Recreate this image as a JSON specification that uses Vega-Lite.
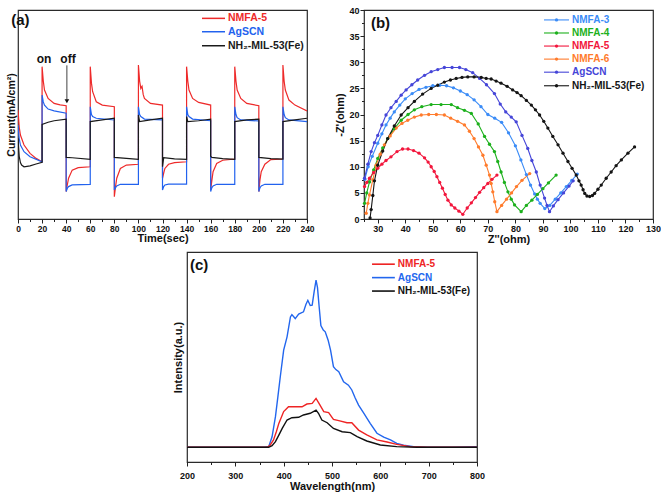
{
"$schema": "https://vega.github.io/schema/vega-lite/v6.json",
"background": "white",
"padding": {"left": 5, "top": 5, "right": 0, "bottom": 5},
"config": {
  "view": {"stroke": "#2a2a2a", "strokeWidth": 1.2},
  "axis": {"grid": false, "domain": false, "labelOverlap": false, "labelFlush": false, "labelFont": "Liberation Sans", "labelFontWeight": "bold", "labelFontSize": 9, "labelColor": "#111", "titleFont": "Liberation Sans", "titleFontWeight": "bold", "titleFontSize": 11, "titleColor": "#111", "tickColor": "#222", "labelPadding": 1, "titlePadding": 0},
  "text": {"font": "Liberation Sans", "fontWeight": "bold"}
},
"datasets": {
"a": [
{"s":"NMFA-5","t":0,"v":52.2},{"s":"NMFA-5","t":1,"v":44},{"s":"NMFA-5","t":2,"v":40.2},{"s":"NMFA-5","t":5,"v":35.4},{"s":"NMFA-5","t":10,"v":31.4},{"s":"NMFA-5","t":15,"v":29},{"s":"NMFA-5","t":20,"v":27.4},
{"s":"NMFA-5","t":20,"v":72.9},{"s":"NMFA-5","t":21,"v":66},{"s":"NMFA-5","t":22,"v":61.7},{"s":"NMFA-5","t":25,"v":57.7},{"s":"NMFA-5","t":30,"v":55.3},{"s":"NMFA-5","t":35,"v":54.6},{"s":"NMFA-5","t":40,"v":54.2},
{"s":"NMFA-5","t":40,"v":13.1},{"s":"NMFA-5","t":41,"v":16.5},{"s":"NMFA-5","t":42,"v":19.5},{"s":"NMFA-5","t":45,"v":23.4},{"s":"NMFA-5","t":50,"v":24.6},{"s":"NMFA-5","t":60,"v":25.0},
{"s":"NMFA-5","t":60,"v":72.9},{"s":"NMFA-5","t":61,"v":65},{"s":"NMFA-5","t":62,"v":60.9},{"s":"NMFA-5","t":65,"v":56.1},{"s":"NMFA-5","t":70,"v":54.5},{"s":"NMFA-5","t":80,"v":53.7},
{"s":"NMFA-5","t":80,"v":10.7},{"s":"NMFA-5","t":81,"v":15.5},{"s":"NMFA-5","t":82,"v":19.5},{"s":"NMFA-5","t":85,"v":24.2},{"s":"NMFA-5","t":90,"v":25.8},{"s":"NMFA-5","t":100,"v":26.2},
{"s":"NMFA-5","t":100,"v":73.7},{"s":"NMFA-5","t":101,"v":66},{"s":"NMFA-5","t":102,"v":62.5},{"s":"NMFA-5","t":103,"v":63.5},{"s":"NMFA-5","t":104,"v":59.5},{"s":"NMFA-5","t":105,"v":57.7},{"s":"NMFA-5","t":110,"v":55.3},{"s":"NMFA-5","t":120,"v":54.5},
{"s":"NMFA-5","t":120,"v":19.5},{"s":"NMFA-5","t":121,"v":22},{"s":"NMFA-5","t":122,"v":24.2},{"s":"NMFA-5","t":125,"v":26.2},{"s":"NMFA-5","t":130,"v":27.0},{"s":"NMFA-5","t":140,"v":27.4},
{"s":"NMFA-5","t":140,"v":72.9},{"s":"NMFA-5","t":141,"v":66},{"s":"NMFA-5","t":142,"v":61.7},{"s":"NMFA-5","t":145,"v":57.7},{"s":"NMFA-5","t":150,"v":55.8},{"s":"NMFA-5","t":160,"v":54.5},
{"s":"NMFA-5","t":160,"v":13.9},{"s":"NMFA-5","t":161,"v":18.5},{"s":"NMFA-5","t":162,"v":22.6},{"s":"NMFA-5","t":165,"v":26.6},{"s":"NMFA-5","t":170,"v":28.1},{"s":"NMFA-5","t":180,"v":28.7},
{"s":"NMFA-5","t":180,"v":72.9},{"s":"NMFA-5","t":181,"v":66},{"s":"NMFA-5","t":182,"v":61.7},{"s":"NMFA-5","t":185,"v":57.7},{"s":"NMFA-5","t":190,"v":55.3},{"s":"NMFA-5","t":200,"v":54.2},
{"s":"NMFA-5","t":200,"v":13.1},{"s":"NMFA-5","t":201,"v":19},{"s":"NMFA-5","t":202,"v":22.6},{"s":"NMFA-5","t":205,"v":26.2},{"s":"NMFA-5","t":210,"v":28.4},{"s":"NMFA-5","t":220,"v":28.7},
{"s":"NMFA-5","t":220,"v":73.7},{"s":"NMFA-5","t":221,"v":66},{"s":"NMFA-5","t":222,"v":61.7},{"s":"NMFA-5","t":225,"v":56.9},{"s":"NMFA-5","t":230,"v":54.5},{"s":"NMFA-5","t":240,"v":51.7},
{"s":"AgSCN","t":0,"v":45.0},{"s":"AgSCN","t":1,"v":38.5},{"s":"AgSCN","t":2,"v":35.4},{"s":"AgSCN","t":5,"v":32.2},{"s":"AgSCN","t":10,"v":29.8},{"s":"AgSCN","t":20,"v":27.4},
{"s":"AgSCN","t":20,"v":59.3},{"s":"AgSCN","t":21,"v":56},{"s":"AgSCN","t":22,"v":54.5},{"s":"AgSCN","t":25,"v":52.6},{"s":"AgSCN","t":30,"v":51.7},{"s":"AgSCN","t":40,"v":50.6},
{"s":"AgSCN","t":40,"v":13.1},{"s":"AgSCN","t":41,"v":14.8},{"s":"AgSCN","t":42,"v":15.5},{"s":"AgSCN","t":45,"v":16.3},{"s":"AgSCN","t":60,"v":16.6},
{"s":"AgSCN","t":60,"v":53.7},{"s":"AgSCN","t":61,"v":50},{"s":"AgSCN","t":62,"v":49.0},{"s":"AgSCN","t":65,"v":48.2},{"s":"AgSCN","t":80,"v":47.4},
{"s":"AgSCN","t":80,"v":13.9},{"s":"AgSCN","t":81,"v":15},{"s":"AgSCN","t":82,"v":15.8},{"s":"AgSCN","t":85,"v":16.6},{"s":"AgSCN","t":100,"v":16.6},
{"s":"AgSCN","t":100,"v":53.7},{"s":"AgSCN","t":101,"v":50},{"s":"AgSCN","t":102,"v":49.0},{"s":"AgSCN","t":105,"v":47.8},{"s":"AgSCN","t":120,"v":47.4},
{"s":"AgSCN","t":120,"v":13.9},{"s":"AgSCN","t":121,"v":15.5},{"s":"AgSCN","t":122,"v":16.3},{"s":"AgSCN","t":125,"v":16.7},{"s":"AgSCN","t":140,"v":16.7},
{"s":"AgSCN","t":140,"v":53.7},{"s":"AgSCN","t":141,"v":50},{"s":"AgSCN","t":142,"v":49.0},{"s":"AgSCN","t":145,"v":47.8},{"s":"AgSCN","t":160,"v":47.0},
{"s":"AgSCN","t":160,"v":13.1},{"s":"AgSCN","t":161,"v":15},{"s":"AgSCN","t":162,"v":15.8},{"s":"AgSCN","t":165,"v":16.6},{"s":"AgSCN","t":180,"v":16.6},
{"s":"AgSCN","t":180,"v":53.7},{"s":"AgSCN","t":181,"v":50},{"s":"AgSCN","t":182,"v":48.5},{"s":"AgSCN","t":185,"v":47.4},{"s":"AgSCN","t":200,"v":46.9},
{"s":"AgSCN","t":200,"v":13.1},{"s":"AgSCN","t":201,"v":15},{"s":"AgSCN","t":202,"v":15.8},{"s":"AgSCN","t":205,"v":16.6},{"s":"AgSCN","t":220,"v":16.6},
{"s":"AgSCN","t":220,"v":53.7},{"s":"AgSCN","t":221,"v":50},{"s":"AgSCN","t":222,"v":48.5},{"s":"AgSCN","t":225,"v":47.4},{"s":"AgSCN","t":240,"v":46.6},
{"s":"NH₂-MIL-53(Fe)","t":0,"v":38.6},{"s":"NH₂-MIL-53(Fe)","t":1,"v":30},{"s":"NH₂-MIL-53(Fe)","t":2,"v":27},{"s":"NH₂-MIL-53(Fe)","t":3,"v":25.8},{"s":"NH₂-MIL-53(Fe)","t":5,"v":25.0},{"s":"NH₂-MIL-53(Fe)","t":10,"v":25.4},{"s":"NH₂-MIL-53(Fe)","t":15,"v":26.3},{"s":"NH₂-MIL-53(Fe)","t":20,"v":27.1},
{"s":"NH₂-MIL-53(Fe)","t":20,"v":45.3},{"s":"NH₂-MIL-53(Fe)","t":25,"v":46.3},{"s":"NH₂-MIL-53(Fe)","t":30,"v":47.0},{"s":"NH₂-MIL-53(Fe)","t":40,"v":47.8},
{"s":"NH₂-MIL-53(Fe)","t":40,"v":29.5},{"s":"NH₂-MIL-53(Fe)","t":45,"v":29.3},{"s":"NH₂-MIL-53(Fe)","t":60,"v":28.5},
{"s":"NH₂-MIL-53(Fe)","t":60,"v":46.6},{"s":"NH₂-MIL-53(Fe)","t":70,"v":47.4},{"s":"NH₂-MIL-53(Fe)","t":80,"v":48.2},
{"s":"NH₂-MIL-53(Fe)","t":80,"v":29.5},{"s":"NH₂-MIL-53(Fe)","t":90,"v":29.0},{"s":"NH₂-MIL-53(Fe)","t":100,"v":28.5},
{"s":"NH₂-MIL-53(Fe)","t":100,"v":49.8},{"s":"NH₂-MIL-53(Fe)","t":101,"v":46.6},{"s":"NH₂-MIL-53(Fe)","t":110,"v":47.4},{"s":"NH₂-MIL-53(Fe)","t":120,"v":48.2},
{"s":"NH₂-MIL-53(Fe)","t":120,"v":25.0},{"s":"NH₂-MIL-53(Fe)","t":121,"v":29.3},{"s":"NH₂-MIL-53(Fe)","t":130,"v":28.8},{"s":"NH₂-MIL-53(Fe)","t":140,"v":28.5},
{"s":"NH₂-MIL-53(Fe)","t":140,"v":49.0},{"s":"NH₂-MIL-53(Fe)","t":141,"v":46.6},{"s":"NH₂-MIL-53(Fe)","t":150,"v":47.0},{"s":"NH₂-MIL-53(Fe)","t":160,"v":47.8},
{"s":"NH₂-MIL-53(Fe)","t":160,"v":30.0},{"s":"NH₂-MIL-53(Fe)","t":161,"v":29.5},{"s":"NH₂-MIL-53(Fe)","t":170,"v":28.9},{"s":"NH₂-MIL-53(Fe)","t":180,"v":28.5},
{"s":"NH₂-MIL-53(Fe)","t":180,"v":46.6},{"s":"NH₂-MIL-53(Fe)","t":190,"v":47.4},{"s":"NH₂-MIL-53(Fe)","t":200,"v":47.8},
{"s":"NH₂-MIL-53(Fe)","t":200,"v":29.5},{"s":"NH₂-MIL-53(Fe)","t":210,"v":28.9},{"s":"NH₂-MIL-53(Fe)","t":220,"v":28.7},
{"s":"NH₂-MIL-53(Fe)","t":220,"v":46.6},{"s":"NH₂-MIL-53(Fe)","t":230,"v":47.4},{"s":"NH₂-MIL-53(Fe)","t":240,"v":48.2}
],
"aleg": [
{"s":"NMFA-5","x1":152.8,"x2":171.9,"y":96.0},
{"s":"AgSCN","x1":152.8,"x2":171.9,"y":89.6},
{"s":"NH₂-MIL-53(Fe)","x1":152.8,"x2":171.9,"y":82.9}
],
"anote": [
{"label":"(a)","t":2,"v":95,"size":15},
{"label":"on","t":21.6,"v":76.5,"size":12},
{"label":"off","t":41.5,"v":76.5,"size":12}
],
"b": [
{"s":"NMFA-3","x":25.3,"y":7.6},{"s":"NMFA-3","x":26.5,"y":10},{"s":"NMFA-3","x":28,"y":12},{"s":"NMFA-3","x":30,"y":14.5},{"s":"NMFA-3","x":31.5,"y":16.3},{"s":"NMFA-3","x":33,"y":18},{"s":"NMFA-3","x":34.5,"y":19.3},{"s":"NMFA-3","x":36,"y":20.5},{"s":"NMFA-3","x":38,"y":21.8},{"s":"NMFA-3","x":40,"y":23},{"s":"NMFA-3","x":42.5,"y":24},{"s":"NMFA-3","x":45,"y":24.8},{"s":"NMFA-3","x":47.5,"y":25.2},{"s":"NMFA-3","x":50,"y":25.5},{"s":"NMFA-3","x":52.5,"y":25.6},{"s":"NMFA-3","x":55,"y":25.5},{"s":"NMFA-3","x":57.5,"y":25.1},{"s":"NMFA-3","x":60,"y":24.5},{"s":"NMFA-3","x":62.5,"y":23.8},{"s":"NMFA-3","x":65,"y":22.8},{"s":"NMFA-3","x":67.5,"y":21.5},{"s":"NMFA-3","x":70,"y":20},{"s":"NMFA-3","x":72.5,"y":19.3},{"s":"NMFA-3","x":75,"y":18.5},{"s":"NMFA-3","x":77.5,"y":16.5},{"s":"NMFA-3","x":80,"y":14},{"s":"NMFA-3","x":82,"y":11.3},{"s":"NMFA-3","x":84,"y":8.5},{"s":"NMFA-3","x":85.5,"y":6.5},{"s":"NMFA-3","x":87,"y":4.8},{"s":"NMFA-3","x":88,"y":3.8},{"s":"NMFA-3","x":89,"y":3},{"s":"NMFA-3","x":90.7,"y":2},{"s":"NMFA-3","x":92.5,"y":2.6},{"s":"NMFA-3","x":94.5,"y":3.8},{"s":"NMFA-3","x":96.5,"y":5},{"s":"NMFA-3","x":98.5,"y":6.2},{"s":"NMFA-3","x":100.5,"y":7.4},{"s":"NMFA-3","x":102.5,"y":8.6},
{"s":"NMFA-4","x":25.2,"y":3},{"s":"NMFA-4","x":26,"y":5},{"s":"NMFA-4","x":27,"y":7.1},{"s":"NMFA-4","x":28.5,"y":9.4},{"s":"NMFA-4","x":30,"y":11.6},{"s":"NMFA-4","x":31.8,"y":13.6},{"s":"NMFA-4","x":33.6,"y":15.4},{"s":"NMFA-4","x":36,"y":17.3},{"s":"NMFA-4","x":38.5,"y":18.9},{"s":"NMFA-4","x":41,"y":20},{"s":"NMFA-4","x":43.3,"y":20.9},{"s":"NMFA-4","x":46,"y":21.5},{"s":"NMFA-4","x":49.4,"y":21.9},{"s":"NMFA-4","x":53,"y":21.9},{"s":"NMFA-4","x":56.7,"y":21.9},{"s":"NMFA-4","x":59,"y":21.3},{"s":"NMFA-4","x":61.5,"y":20.8},{"s":"NMFA-4","x":64,"y":20.2},{"s":"NMFA-4","x":66.5,"y":18.2},{"s":"NMFA-4","x":68.8,"y":15.8},{"s":"NMFA-4","x":70.6,"y":14.3},{"s":"NMFA-4","x":72.4,"y":12.9},{"s":"NMFA-4","x":73.6,"y":11},{"s":"NMFA-4","x":74.8,"y":9},{"s":"NMFA-4","x":76,"y":7},{"s":"NMFA-4","x":77.3,"y":5.2},{"s":"NMFA-4","x":78.5,"y":3.8},{"s":"NMFA-4","x":79.7,"y":2.7},{"s":"NMFA-4","x":82.1,"y":1.4},{"s":"NMFA-4","x":84,"y":2.6},{"s":"NMFA-4","x":86,"y":3.6},{"s":"NMFA-4","x":88,"y":4.7},{"s":"NMFA-4","x":90,"y":5.8},{"s":"NMFA-4","x":92,"y":6.9},{"s":"NMFA-4","x":94.8,"y":8.4},
{"s":"NMFA-5","x":25.2,"y":6.2},{"s":"NMFA-5","x":26,"y":7},{"s":"NMFA-5","x":27,"y":7.8},{"s":"NMFA-5","x":28.5,"y":8.9},{"s":"NMFA-5","x":30,"y":9.7},{"s":"NMFA-5","x":31.5,"y":10.5},{"s":"NMFA-5","x":33,"y":11.2},{"s":"NMFA-5","x":34.8,"y":11.9},{"s":"NMFA-5","x":37,"y":12.9},{"s":"NMFA-5","x":39,"y":13.4},{"s":"NMFA-5","x":41,"y":13.4},{"s":"NMFA-5","x":43,"y":13.1},{"s":"NMFA-5","x":45,"y":12.6},{"s":"NMFA-5","x":47,"y":11.7},{"s":"NMFA-5","x":48.3,"y":10.9},{"s":"NMFA-5","x":49.4,"y":10},{"s":"NMFA-5","x":50.5,"y":9.1},{"s":"NMFA-5","x":51.5,"y":8.1},{"s":"NMFA-5","x":52.5,"y":7},{"s":"NMFA-5","x":53.5,"y":5.9},{"s":"NMFA-5","x":54.5,"y":4.7},{"s":"NMFA-5","x":55.5,"y":3.6},{"s":"NMFA-5","x":56.7,"y":2.7},{"s":"NMFA-5","x":58,"y":2.1},{"s":"NMFA-5","x":59.5,"y":1.5},{"s":"NMFA-5","x":60.9,"y":0.9},{"s":"NMFA-5","x":62.5,"y":2.1},{"s":"NMFA-5","x":64,"y":3.1},{"s":"NMFA-5","x":65.5,"y":4.1},{"s":"NMFA-5","x":67,"y":5.1},{"s":"NMFA-5","x":68.5,"y":6},{"s":"NMFA-5","x":70,"y":6.8},{"s":"NMFA-5","x":71.5,"y":7.6},{"s":"NMFA-5","x":73.3,"y":8.4},
{"s":"NMFA-6","x":25.8,"y":1.1},{"s":"NMFA-6","x":26.4,"y":3},{"s":"NMFA-6","x":27,"y":4.6},{"s":"NMFA-6","x":28.2,"y":7.5},{"s":"NMFA-6","x":29.4,"y":10.3},{"s":"NMFA-6","x":30.9,"y":12.4},{"s":"NMFA-6","x":32.4,"y":14.2},{"s":"NMFA-6","x":34.5,"y":15.9},{"s":"NMFA-6","x":36.7,"y":17.4},{"s":"NMFA-6","x":38.8,"y":18.3},{"s":"NMFA-6","x":40.9,"y":18.9},{"s":"NMFA-6","x":43.3,"y":19.5},{"s":"NMFA-6","x":45.8,"y":19.9},{"s":"NMFA-6","x":48.5,"y":20},{"s":"NMFA-6","x":51.3,"y":20},{"s":"NMFA-6","x":54.2,"y":19.9},{"s":"NMFA-6","x":56.5,"y":19.3},{"s":"NMFA-6","x":59,"y":18.7},{"s":"NMFA-6","x":61.5,"y":18},{"s":"NMFA-6","x":63.3,"y":16.8},{"s":"NMFA-6","x":65,"y":15.4},{"s":"NMFA-6","x":66.6,"y":13.8},{"s":"NMFA-6","x":68.2,"y":12.2},{"s":"NMFA-6","x":69.4,"y":10.3},{"s":"NMFA-6","x":70.6,"y":8.4},{"s":"NMFA-6","x":71.2,"y":6.8},{"s":"NMFA-6","x":71.8,"y":5.2},{"s":"NMFA-6","x":72.5,"y":3.3},{"s":"NMFA-6","x":73.3,"y":1.4},{"s":"NMFA-6","x":75,"y":2.6},{"s":"NMFA-6","x":76.8,"y":3.8},{"s":"NMFA-6","x":78.6,"y":5},{"s":"NMFA-6","x":80.4,"y":6.2},{"s":"NMFA-6","x":82.4,"y":7.4},{"s":"NMFA-6","x":85.2,"y":8.7},
{"s":"AgSCN","x":25.2,"y":7.8},{"s":"AgSCN","x":26.4,"y":10.5},{"s":"AgSCN","x":27.6,"y":12.9},{"s":"AgSCN","x":28.8,"y":14.6},{"s":"AgSCN","x":30,"y":16},{"s":"AgSCN","x":31.5,"y":18},{"s":"AgSCN","x":33,"y":19.9},{"s":"AgSCN","x":34.8,"y":21.3},{"s":"AgSCN","x":36.7,"y":22.5},{"s":"AgSCN","x":38.5,"y":23.7},{"s":"AgSCN","x":40.3,"y":24.7},{"s":"AgSCN","x":42.4,"y":25.7},{"s":"AgSCN","x":44.5,"y":26.6},{"s":"AgSCN","x":47,"y":27.5},{"s":"AgSCN","x":49.4,"y":28.2},{"s":"AgSCN","x":51.8,"y":28.6},{"s":"AgSCN","x":54.2,"y":29},{"s":"AgSCN","x":57,"y":29},{"s":"AgSCN","x":59.7,"y":29},{"s":"AgSCN","x":62,"y":28.6},{"s":"AgSCN","x":64.5,"y":28},{"s":"AgSCN","x":67,"y":26.9},{"s":"AgSCN","x":69.5,"y":25.7},{"s":"AgSCN","x":72.4,"y":24},{"s":"AgSCN","x":74.5,"y":22},{"s":"AgSCN","x":76.5,"y":20.5},{"s":"AgSCN","x":78.5,"y":19.5},{"s":"AgSCN","x":80.3,"y":18.6},{"s":"AgSCN","x":82.4,"y":16},{"s":"AgSCN","x":84.5,"y":13.5},{"s":"AgSCN","x":86,"y":11.2},{"s":"AgSCN","x":87.6,"y":9},{"s":"AgSCN","x":89,"y":6.5},{"s":"AgSCN","x":90.6,"y":4},{"s":"AgSCN","x":91.5,"y":2.6},{"s":"AgSCN","x":92.4,"y":1.4},{"s":"AgSCN","x":93.8,"y":2.5},{"s":"AgSCN","x":95.5,"y":3.7},{"s":"AgSCN","x":97.5,"y":5},{"s":"AgSCN","x":99.5,"y":6.3},{"s":"AgSCN","x":101,"y":7.3},
{"s":"NH₂-MIL-53(Fe)","x":27.2,"y":0.2},{"s":"NH₂-MIL-53(Fe)","x":27.6,"y":1.8},{"s":"NH₂-MIL-53(Fe)","x":28.2,"y":4.5},{"s":"NH₂-MIL-53(Fe)","x":28.8,"y":7.3},{"s":"NH₂-MIL-53(Fe)","x":30,"y":10.3},{"s":"NH₂-MIL-53(Fe)","x":31.8,"y":13},{"s":"NH₂-MIL-53(Fe)","x":33.6,"y":15.4},{"s":"NH₂-MIL-53(Fe)","x":36,"y":17.8},{"s":"NH₂-MIL-53(Fe)","x":38.5,"y":19.9},{"s":"NH₂-MIL-53(Fe)","x":41,"y":21.3},{"s":"NH₂-MIL-53(Fe)","x":43.3,"y":22.5},{"s":"NH₂-MIL-53(Fe)","x":46.3,"y":23.9},{"s":"NH₂-MIL-53(Fe)","x":49.4,"y":25},{"s":"NH₂-MIL-53(Fe)","x":51.8,"y":25.6},{"s":"NH₂-MIL-53(Fe)","x":54.2,"y":26.2},{"s":"NH₂-MIL-53(Fe)","x":56.4,"y":26.6},{"s":"NH₂-MIL-53(Fe)","x":58.5,"y":26.9},{"s":"NH₂-MIL-53(Fe)","x":60.6,"y":27.1},{"s":"NH₂-MIL-53(Fe)","x":62.7,"y":27.2},{"s":"NH₂-MIL-53(Fe)","x":65,"y":27.2},{"s":"NH₂-MIL-53(Fe)","x":67.6,"y":27.1},{"s":"NH₂-MIL-53(Fe)","x":69.4,"y":26.9},{"s":"NH₂-MIL-53(Fe)","x":71.2,"y":26.8},{"s":"NH₂-MIL-53(Fe)","x":73,"y":26.4},{"s":"NH₂-MIL-53(Fe)","x":74.8,"y":26},{"s":"NH₂-MIL-53(Fe)","x":77,"y":25.4},{"s":"NH₂-MIL-53(Fe)","x":79,"y":24.7},{"s":"NH₂-MIL-53(Fe)","x":80.6,"y":24.2},{"s":"NH₂-MIL-53(Fe)","x":82.1,"y":23.6},{"s":"NH₂-MIL-53(Fe)","x":84,"y":22.7},{"s":"NH₂-MIL-53(Fe)","x":85.8,"y":21.8},{"s":"NH₂-MIL-53(Fe)","x":87.3,"y":20.9},{"s":"NH₂-MIL-53(Fe)","x":88.8,"y":19.9},{"s":"NH₂-MIL-53(Fe)","x":90.3,"y":18.7},{"s":"NH₂-MIL-53(Fe)","x":91.8,"y":17.4},{"s":"NH₂-MIL-53(Fe)","x":93.6,"y":15.8},{"s":"NH₂-MIL-53(Fe)","x":95.5,"y":14.2},{"s":"NH₂-MIL-53(Fe)","x":97.3,"y":12.6},{"s":"NH₂-MIL-53(Fe)","x":99.1,"y":11},{"s":"NH₂-MIL-53(Fe)","x":100.6,"y":9.7},{"s":"NH₂-MIL-53(Fe)","x":102.1,"y":8.4},{"s":"NH₂-MIL-53(Fe)","x":103.1,"y":7.3},{"s":"NH₂-MIL-53(Fe)","x":103.9,"y":6.5},{"s":"NH₂-MIL-53(Fe)","x":104.6,"y":5.6},{"s":"NH₂-MIL-53(Fe)","x":105.2,"y":4.9},{"s":"NH₂-MIL-53(Fe)","x":106,"y":4.4},{"s":"NH₂-MIL-53(Fe)","x":107,"y":4.3},{"s":"NH₂-MIL-53(Fe)","x":108,"y":4.5},{"s":"NH₂-MIL-53(Fe)","x":108.8,"y":4.9},{"s":"NH₂-MIL-53(Fe)","x":110,"y":5.7},{"s":"NH₂-MIL-53(Fe)","x":111.2,"y":6.5},{"s":"NH₂-MIL-53(Fe)","x":113,"y":7.8},{"s":"NH₂-MIL-53(Fe)","x":114.8,"y":9},{"s":"NH₂-MIL-53(Fe)","x":116.6,"y":10.2},{"s":"NH₂-MIL-53(Fe)","x":118.5,"y":11.3},{"s":"NH₂-MIL-53(Fe)","x":120.9,"y":12.6},{"s":"NH₂-MIL-53(Fe)","x":123.3,"y":13.8}
],
"bleg": [
{"s":"NMFA-3","x1":90.4,"x2":99.5,"xm":94.95,"y":38.1},
{"s":"NMFA-4","x1":90.4,"x2":99.5,"xm":94.95,"y":35.6},
{"s":"NMFA-5","x1":90.4,"x2":99.5,"xm":94.95,"y":33.1},
{"s":"NMFA-6","x1":90.4,"x2":99.5,"xm":94.95,"y":30.6},
{"s":"AgSCN","x1":90.4,"x2":99.5,"xm":94.95,"y":28.1},
{"s":"NH₂-MIL-53(Fe)","x1":90.4,"x2":99.5,"xm":94.95,"y":25.5}
],
"c": [
{"s":"AgSCN","w":200,"i":0},{"s":"AgSCN","w":300,"i":0},{"s":"AgSCN","w":360,"i":0},{"s":"AgSCN","w":369,"i":0.3},{"s":"AgSCN","w":376,"i":5},{"s":"AgSCN","w":383,"i":14.6},{"s":"AgSCN","w":388,"i":24},{"s":"AgSCN","w":393,"i":33.6},{"s":"AgSCN","w":400,"i":46.3},{"s":"AgSCN","w":407,"i":52.6},{"s":"AgSCN","w":414,"i":62.1},{"s":"AgSCN","w":417,"i":63.2},{"s":"AgSCN","w":424,"i":61.3},{"s":"AgSCN","w":431,"i":63.4},{"s":"AgSCN","w":441,"i":64.5},{"s":"AgSCN","w":446,"i":68},{"s":"AgSCN","w":450,"i":70.0},{"s":"AgSCN","w":455,"i":67.5},{"s":"AgSCN","w":459,"i":67.7},{"s":"AgSCN","w":463,"i":74},{"s":"AgSCN","w":467,"i":79.6},{"s":"AgSCN","w":470,"i":76},{"s":"AgSCN","w":473,"i":68},{"s":"AgSCN","w":477,"i":58},{"s":"AgSCN","w":482,"i":55.8},{"s":"AgSCN","w":486,"i":55.0},{"s":"AgSCN","w":492,"i":51},{"s":"AgSCN","w":497,"i":46.3},{"s":"AgSCN","w":503,"i":38.4},{"s":"AgSCN","w":508,"i":37},{"s":"AgSCN","w":514,"i":36.0},{"s":"AgSCN","w":524,"i":31.2},{"s":"AgSCN","w":534,"i":29.6},{"s":"AgSCN","w":541,"i":27.3},{"s":"AgSCN","w":548,"i":23.5},{"s":"AgSCN","w":555,"i":20.1},{"s":"AgSCN","w":566,"i":16.2},{"s":"AgSCN","w":579,"i":11.4},{"s":"AgSCN","w":593,"i":6.7},{"s":"AgSCN","w":607,"i":4.8},{"s":"AgSCN","w":621,"i":3.5},{"s":"AgSCN","w":634,"i":1.9},{"s":"AgSCN","w":648,"i":1.0},{"s":"AgSCN","w":669,"i":0.3},{"s":"AgSCN","w":697,"i":0},{"s":"AgSCN","w":750,"i":0.1},{"s":"AgSCN","w":800,"i":0.3},
{"s":"NMFA-5","w":200,"i":0},{"s":"NMFA-5","w":300,"i":0},{"s":"NMFA-5","w":366,"i":0},{"s":"NMFA-5","w":372,"i":1},{"s":"NMFA-5","w":379,"i":3.5},{"s":"NMFA-5","w":385,"i":7.5},{"s":"NMFA-5","w":390,"i":11.4},{"s":"NMFA-5","w":400,"i":17.0},{"s":"NMFA-5","w":410,"i":19.3},{"s":"NMFA-5","w":421,"i":19.3},{"s":"NMFA-5","w":438,"i":19.3},{"s":"NMFA-5","w":448,"i":20.6},{"s":"NMFA-5","w":459,"i":20.9},{"s":"NMFA-5","w":467,"i":23.3},{"s":"NMFA-5","w":474,"i":20.6},{"s":"NMFA-5","w":483,"i":17.0},{"s":"NMFA-5","w":493,"i":16.5},{"s":"NMFA-5","w":503,"i":13.3},{"s":"NMFA-5","w":514,"i":12.7},{"s":"NMFA-5","w":531,"i":11.7},{"s":"NMFA-5","w":541,"i":11.7},{"s":"NMFA-5","w":555,"i":8.2},{"s":"NMFA-5","w":572,"i":5.9},{"s":"NMFA-5","w":593,"i":3.5},{"s":"NMFA-5","w":614,"i":2.5},{"s":"NMFA-5","w":634,"i":1.4},{"s":"NMFA-5","w":662,"i":0.3},{"s":"NMFA-5","w":697,"i":0},{"s":"NMFA-5","w":800,"i":0},
{"s":"NH₂-MIL-53(Fe)","w":200,"i":0},{"s":"NH₂-MIL-53(Fe)","w":300,"i":0},{"s":"NH₂-MIL-53(Fe)","w":369,"i":0},{"s":"NH₂-MIL-53(Fe)","w":376,"i":0.8},{"s":"NH₂-MIL-53(Fe)","w":383,"i":2.7},{"s":"NH₂-MIL-53(Fe)","w":390,"i":5.8},{"s":"NH₂-MIL-53(Fe)","w":397,"i":9.0},{"s":"NH₂-MIL-53(Fe)","w":407,"i":13.0},{"s":"NH₂-MIL-53(Fe)","w":417,"i":14.1},{"s":"NH₂-MIL-53(Fe)","w":431,"i":14.3},{"s":"NH₂-MIL-53(Fe)","w":441,"i":15.4},{"s":"NH₂-MIL-53(Fe)","w":455,"i":16.2},{"s":"NH₂-MIL-53(Fe)","w":467,"i":17.7},{"s":"NH₂-MIL-53(Fe)","w":472,"i":16.2},{"s":"NH₂-MIL-53(Fe)","w":479,"i":13.0},{"s":"NH₂-MIL-53(Fe)","w":490,"i":11.7},{"s":"NH₂-MIL-53(Fe)","w":503,"i":9.0},{"s":"NH₂-MIL-53(Fe)","w":521,"i":7.4},{"s":"NH₂-MIL-53(Fe)","w":538,"i":7.0},{"s":"NH₂-MIL-53(Fe)","w":552,"i":5.1},{"s":"NH₂-MIL-53(Fe)","w":572,"i":3.0},{"s":"NH₂-MIL-53(Fe)","w":600,"i":1.1},{"s":"NH₂-MIL-53(Fe)","w":634,"i":0.3},{"s":"NH₂-MIL-53(Fe)","w":676,"i":0},{"s":"NH₂-MIL-53(Fe)","w":800,"i":0}
],
"cleg": [
{"s":"NMFA-5","x1":582.8,"x2":630,"y":87.2},
{"s":"AgSCN","x1":582.8,"x2":630,"y":80.8},
{"s":"NH₂-MIL-53(Fe)","x1":582.8,"x2":630,"y":74.4}
],
"cnote": [{"label":"(c)","w":206,"i":87}],
"bnote": [{"label":"(b)","x":27.5,"y":37.6}]
},
"resolve": {"scale": {"x": "independent", "y": "independent", "color": "independent"}},
"spacing": 6,
"vconcat": [
{
"resolve": {"scale": {"x": "independent", "y": "independent", "color": "independent"}},
"spacing": 19,
"hconcat": [
{
"width": 289, "height": 209,
"encoding": {
  "x": {"type": "quantitative", "scale": {"domain": [0, 240], "nice": false, "zero": false}},
  "y": {"type": "quantitative", "scale": {"domain": [0, 100], "nice": false}}
},
"layer": [
 {"data": {"name": "a"}, "mark": {"type": "line", "strokeWidth": 1.2, "clip": true},
  "encoding": {
   "x": {"field": "t", "type": "quantitative", "title": "Time(sec)", "axis": {"values": [0,10,20,30,40,50,60,70,80,90,100,110,120,130,140,150,160,170,180,190,200,210,220,230,240], "tickCount": 100, "labelOverlap": false, "labelExpr": "datum.value % 20 === 0 ? datum.label : ''", "tickSize": {"condition": {"test": "datum.value % 20 !== 0", "value": 2.5}, "value": 4}, "labelFontSize": 8.5, "titleFontSize": 11}},
   "y": {"field": "v", "type": "quantitative", "title": "Current(mA/cm²)", "axis": {"labels": false, "ticks": false, "titlePadding": 2, "titleFontSize": 10.5}},
   "color": {"field": "s", "type": "nominal", "legend": null, "scale": {"domain": ["NMFA-5", "AgSCN", "NH₂-MIL-53(Fe)"], "range": ["#ee2a2a", "#2262ee", "#1a1a1a"]}},
   "order": {"value": null}
  }},
 {"data": {"name": "aleg"}, "mark": {"type": "rule", "strokeWidth": 1.5},
  "encoding": {"x": {"field": "x1", "type": "quantitative"}, "x2": {"field": "x2"}, "y": {"field": "y", "type": "quantitative"}, "color": {"field": "s", "type": "nominal", "legend": null}}},
 {"data": {"name": "aleg"}, "mark": {"type": "text", "align": "left", "baseline": "middle", "dx": 3, "fontSize": 10.5},
  "encoding": {"x": {"field": "x2", "type": "quantitative"}, "y": {"field": "y", "type": "quantitative"}, "text": {"field": "s"}, "color": {"field": "s", "type": "nominal", "legend": null}}},
 {"data": {"name": "anote"}, "mark": {"type": "text", "align": "center", "baseline": "middle", "color": "#111"},
  "encoding": {"x": {"field": "t", "type": "quantitative"}, "y": {"field": "v", "type": "quantitative"}, "text": {"field": "label"}, "size": {"field": "size", "type": "quantitative", "scale": null}}},
 {"data": {"values": [{"t": 40.6, "v": 73.5, "v2": 57}]}, "mark": {"type": "rule", "color": "#111", "strokeWidth": 0.8},
  "encoding": {"x": {"field": "t", "type": "quantitative"}, "y": {"field": "v", "type": "quantitative"}, "y2": {"field": "v2"}}},
 {"data": {"values": [{"t": 40.6, "v": 56.3}]}, "mark": {"type": "point", "shape": "triangle-down", "filled": true, "color": "#111", "size": 22, "opacity": 1},
  "encoding": {"x": {"field": "t", "type": "quantitative"}, "y": {"field": "v", "type": "quantitative"}}}
]
},
{
"width": 289, "height": 209,
"encoding": {
  "x": {"type": "quantitative", "scale": {"domain": [25, 130], "nice": false, "zero": false}},
  "y": {"type": "quantitative", "scale": {"domain": [0, 40], "nice": false}}
},
"layer": [
 {"data": {"name": "b"}, "mark": {"type": "line", "strokeWidth": 1.1, "point": {"filled": true, "size": 11}},
  "encoding": {
   "x": {"field": "x", "type": "quantitative", "title": "Z''(ohm)", "axis": {"values": [25,30,35,40,45,50,55,60,65,70,75,80,85,90,95,100,105,110,115,120,125,130], "tickCount": 100, "format": "d", "labelOverlap": false, "labelExpr": "datum.value % 10 === 0 ? datum.label : ''", "tickSize": {"condition": {"test": "datum.value % 10 !== 0", "value": 2.5}, "value": 4}}},
   "y": {"field": "y", "type": "quantitative", "title": "-Z'(ohm)", "axis": {"values": [0,2.5,5,7.5,10,12.5,15,17.5,20,22.5,25,27.5,30,32.5,35,37.5,40], "tickCount": 100, "format": "d", "labelOverlap": false, "labelExpr": "datum.value % 5 === 0 ? datum.label : ''", "tickSize": {"condition": {"test": "datum.value % 5 !== 0", "value": 2.5}, "value": 4}, "titlePadding": 3}},
   "color": {"field": "s", "type": "nominal", "legend": null, "scale": {"domain": ["NMFA-3", "NMFA-4", "NMFA-5", "NMFA-6", "AgSCN", "NH₂-MIL-53(Fe)"], "range": ["#3b8cf7", "#1cb01c", "#f2163c", "#ff7b2c", "#4545d8", "#141414"]}},
   "order": {"value": null}
  }},
 {"data": {"name": "bleg"}, "mark": {"type": "rule", "strokeWidth": 1.1},
  "encoding": {"x": {"field": "x1", "type": "quantitative"}, "x2": {"field": "x2"}, "y": {"field": "y", "type": "quantitative"}, "color": {"field": "s", "type": "nominal", "legend": null}}},
 {"data": {"name": "bleg"}, "mark": {"type": "point", "filled": true, "size": 11, "opacity": 1},
  "encoding": {"x": {"field": "xm", "type": "quantitative"}, "y": {"field": "y", "type": "quantitative"}, "color": {"field": "s", "type": "nominal", "legend": null}}},
 {"data": {"name": "bleg"}, "mark": {"type": "text", "align": "left", "baseline": "middle", "dx": 3, "fontSize": 10},
  "encoding": {"x": {"field": "x2", "type": "quantitative"}, "y": {"field": "y", "type": "quantitative"}, "text": {"field": "s"}, "color": {"field": "s", "type": "nominal", "legend": null}}},
 {"data": {"name": "bnote"}, "mark": {"type": "text", "align": "left", "baseline": "middle", "fontSize": 15, "color": "#111"},
  "encoding": {"x": {"field": "x", "type": "quantitative"}, "y": {"field": "y", "type": "quantitative"}, "text": {"field": "label"}}}
]
}
]
},
{
"resolve": {"scale": {"x": "independent", "y": "independent", "color": "independent"}},
"spacing": 20,
"hconcat": [
{
"width": 133, "height": 10,
"view": {"stroke": null},
"data": {"values": []},
"mark": {"type": "point", "opacity": 0}
},
{
"width": 290, "height": 210,
"encoding": {
  "x": {"type": "quantitative", "scale": {"domain": [200, 800], "nice": false, "zero": false}},
  "y": {"type": "quantitative", "scale": {"domain": [-7, 93], "nice": false, "zero": false}}
},
"layer": [
 {"data": {"name": "c"}, "mark": {"type": "line", "strokeWidth": 1.4},
  "encoding": {
   "x": {"field": "w", "type": "quantitative", "title": "Wavelength(nm)", "axis": {"values": [200,250,300,350,400,450,500,550,600,650,700,750,800], "tickCount": 100, "labelOverlap": false, "labelPadding": 5, "labelExpr": "datum.value % 100 === 0 ? datum.label : ''", "tickSize": {"condition": {"test": "datum.value % 100 !== 0", "value": 2.5}, "value": 4}}},
   "y": {"field": "i", "type": "quantitative", "title": "Intensity(a.u.)", "axis": {"labels": false, "ticks": false, "titlePadding": 4}},
   "color": {"field": "s", "type": "nominal", "legend": null, "scale": {"domain": ["NMFA-5", "AgSCN", "NH₂-MIL-53(Fe)"], "range": ["#ee2424", "#2266ee", "#111111"]}},
   "order": {"value": null}
  }},
 {"data": {"name": "cleg"}, "mark": {"type": "rule", "strokeWidth": 1.6},
  "encoding": {"x": {"field": "x1", "type": "quantitative"}, "x2": {"field": "x2"}, "y": {"field": "y", "type": "quantitative"}, "color": {"field": "s", "type": "nominal", "legend": null}}},
 {"data": {"name": "cleg"}, "mark": {"type": "text", "align": "left", "baseline": "middle", "dx": 3, "fontSize": 10},
  "encoding": {"x": {"field": "x2", "type": "quantitative"}, "y": {"field": "y", "type": "quantitative"}, "text": {"field": "s"}, "color": {"field": "s", "type": "nominal", "legend": null}}},
 {"data": {"name": "cnote"}, "mark": {"type": "text", "align": "left", "baseline": "middle", "fontSize": 15, "color": "#111"},
  "encoding": {"x": {"field": "w", "type": "quantitative"}, "y": {"field": "i", "type": "quantitative"}, "text": {"field": "label"}}}
]
}
]
}
]
}
